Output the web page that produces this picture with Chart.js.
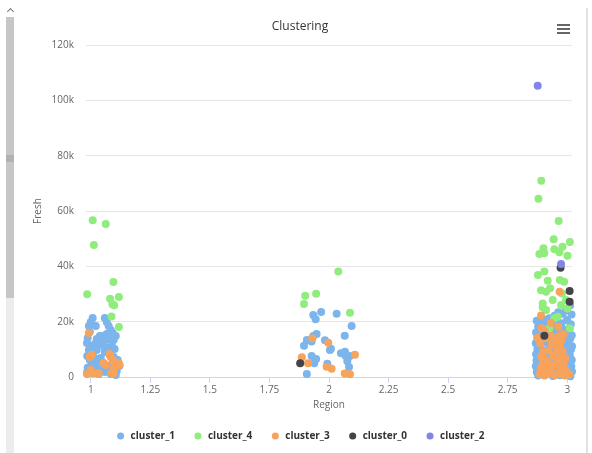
<!DOCTYPE html>
<html>
<head>
<meta charset="utf-8">
<script src="https://cdn.jsdelivr.net/npm/chart.js@4.4.1/dist/chart.umd.min.js"></script>
<style>
  html, body { margin: 0; padding: 0; background: #fff; }
  #wrap { position: relative; width: 592px; height: 453px; overflow: hidden; }
  #chart { position: absolute; left: 0; top: 0; }
  .track { position: absolute; left: 6px; top: 17px; width: 8px; height: 436px; background: #ececec; }
  .thumb { position: absolute; left: 6px; top: 17px; width: 8px; height: 281px; background: #c6c6c6; }
  .grip { position: absolute; left: 6px; top: 155px; width: 8px; height: 7px; background: #b2b2b2; }
  .arrow { position: absolute; left: 8px; top: 9px; width: 4px; height: 4px; border-left: 1px solid #777; border-top: 1px solid #777; transform: rotate(45deg); }
  .frame { position: absolute; left: 586px; top: 8px; width: 2px; height: 445px; background: #e2e2e2; }
  .menu span { position: absolute; left: 557px; width: 13px; height: 2px; background: #666; }
</style>
</head>
<body>
<div id="wrap">
  <canvas id="chart" width="592" height="453"></canvas>
  <div class="track"></div>
  <div class="thumb"></div>
  <div class="grip"></div>
  <div class="arrow"></div>
  <div class="frame"></div>
  <div class="menu"><span style="top:24px"></span><span style="top:28px"></span><span style="top:32px"></span></div>
</div>
<script>
// x = Region (jittered), y = Fresh
const regionTicks = [1, 1.25, 1.5, 1.75, 2, 2.25, 2.5, 2.75, 3];
const freshTicks = [0, 20000, 40000, 60000, 80000, 100000, 120000];
const seriesNames = ["cluster_1", "cluster_4", "cluster_3", "cluster_0", "cluster_2"];
const seriesColors = ["#7cb5ec", "#90ed7d", "#f7a35c", "#434348", "#8085e9"];

const cluster1 = [
  // region 1
  [1.008,21300],[1.000,19900],[0.992,18400],[0.996,16300],[0.987,14100],[0.984,12300],[1.000,11200],[1.017,11900],
  [1.025,13700],[1.038,14800],[0.992,9800],[1.008,9000],[0.985,7600],[0.996,6100],[1.017,6900],[1.029,5400],
  [1.004,4300],[0.987,3300],[1.021,3300],[1.038,2500],[0.985,1800],[1.008,1400],[1.033,1100],[1.021,18400],
  [1.025,9800],[1.042,11900],
  [1.059,21300],[1.067,19900],[1.075,18400],[1.084,17000],[1.092,15900],[1.067,15500],[1.046,14800],[1.059,13400],
  [1.079,13400],[1.096,13400],[1.105,14800],[1.088,11600],[1.071,10500],[1.100,10100],[1.059,9000],[1.079,8000],
  [1.096,7200],[1.113,6100],[1.050,5100],[1.071,4000],[1.092,3300],[1.109,2200],[1.120,4000],[1.059,1800],
  [1.084,1100],[1.105,700],[1.042,6900],[1.054,11200],
  // region 2
  [1.934,22400],[1.944,20900],[1.967,23500],[2.032,22900],[2.095,18400],[2.066,14900],[1.948,15500],[1.934,14800],
  [1.907,13400],[1.895,11300],[1.927,12800],[1.983,13300],[2.008,10200],[2.004,9800],[2.050,8600],[2.070,7600],
  [2.077,5700],[2.084,3600],[1.927,7600],[1.946,6500],[1.938,5000],[1.993,4800],[1.907,1100],[2.067,9100],[2.088,7600],
  // region 3
  [3.012,25800],[2.995,24100],[3.018,22600],[2.981,22900],[2.962,23400],[2.947,22100],[2.925,21200],
  [2.872,20300],[2.889,19600],[2.905,20800],[2.934,19900],[2.958,20100],[2.976,19400],[2.999,20600],[3.015,19100],
  [2.878,18200],[2.896,17500],[2.918,18600],[2.944,17800],[2.969,18000],[2.987,17100],[3.008,17600],
  [2.869,16100],[2.887,15700],[2.909,16400],[2.929,15900],[2.955,16500],[2.979,15800],[3.001,16200],[3.019,15100],
  [2.874,14200],[2.897,13600],[2.921,14400],[2.948,13900],[2.973,14300],[2.991,13500],[3.013,13900],
  [2.868,12200],[2.886,11800],[2.912,12500],[2.938,11900],[2.961,12300],[2.984,11600],[3.006,12000],[3.020,11100],
  [2.875,10100],[2.899,9700],[2.926,10400],[2.951,9900],[2.976,10200],[2.997,9500],[3.016,10000],
  [2.869,8200],[2.884,7600],[2.914,8000],[2.943,7700],[2.967,8300],[2.989,7400],[3.011,7900],
  [2.871,6000],[2.893,5500],[2.931,5900],[2.958,5300],[2.982,5800],[3.004,5200],[3.019,6100],
  [2.868,3900],[2.889,3400],[2.920,3800],[2.950,3200],[2.978,3600],[3.000,3100],[3.017,3900],
  [2.872,1800],[2.895,1200],[2.925,1700],[2.955,1100],[2.985,1600],[3.008,1000],[3.020,2000],
  [2.878,500],[2.940,400],[2.970,600],[3.013,300]
];

const cluster4 = [
  [0.985,29900],[1.008,56700],[1.063,55300],[1.013,47700],[1.095,34300],[1.081,28300],[1.118,28900],[1.091,26300],
  [1.098,25900],[1.087,21900],[1.118,18100],
  [2.039,38100],[1.900,29400],[1.946,30100],[1.895,26400],[2.088,23200],
  [2.891,70900],[2.879,64400],[2.964,56400],[2.943,49800],[2.900,46500],[2.883,44500],[2.904,44700],[2.980,47100],
  [3.011,48800],[2.967,45100],[3.001,43800],[2.946,46200],[2.877,36900],[2.904,38100],[2.918,34800],[2.969,35100],
  [2.987,34400],[2.890,31400],[2.911,30800],[2.928,32100],[2.939,27800],[2.897,26600],[2.978,30200],[2.995,27800],
  [2.974,26000],[2.911,24200],[2.946,21200],[3.001,24800],[3.011,17600],[2.925,17600],[2.960,21800],[2.897,25200]
];

const cluster3 = [
  [0.992,15900],[1.004,8000],[0.984,1100],[1.000,2500],[1.013,1400],[1.063,4300],[1.079,8300],[1.084,7200],
  [1.092,6100],[1.096,3300],[1.117,5100],[1.121,4300],[1.088,1400],[1.033,1400],[0.996,7200],[1.054,5100],[1.096,1400],
  [1.930,14000],[1.997,12400],[1.886,7100],[1.912,5000],[2.109,8000],[1.990,3700],[2.011,3000],[2.066,1300],[2.088,1000],
  [2.968,30800],[2.890,22200],[2.892,17600],[2.967,14800],[2.876,14200],[2.932,14800],
  [2.931,19500],[2.962,18200],[2.905,16600],[2.985,15500],[2.947,13000],[2.912,14000],[2.975,13200],
  [2.887,12100],[2.935,11800],[2.968,11000],
  [2.899,9200],[2.922,9600],[2.958,9900],[2.981,9100],
  [2.890,7400],[2.906,6500],[2.940,7600],[2.972,7300],[2.992,6700],
  [2.896,4800],[2.917,5300],[2.948,4600],[2.962,5900],[2.984,4500],
  [2.888,3100],[2.910,2600],[2.932,3200],[2.968,2900],[2.995,2300],
  [2.885,1000],[2.905,500],[2.928,1200],[2.950,700],[2.972,1100],[2.990,500],[3.008,900]
];

const cluster0 = [[1.879,5000],[2.972,39500],[3.010,31100],[3.010,27200],[2.904,14900]];
const cluster2 = [[2.876,105300],[2.974,40800]];

const allSeries = [cluster1, cluster4, cluster3, cluster0, cluster2];

Chart.defaults.font.family = "'Open Sans', 'Noto Sans', sans-serif";

const datasets = allSeries.map((pts, i) => ({
  label: seriesNames[i],
  data: pts,
  backgroundColor: seriesColors[i],
  borderColor: seriesColors[i],
  pointRadius: 4,
  pointHoverRadius: 4,
  pointBorderWidth: 0,
  clip: false,
  order: allSeries.length - i   // later series drawn on top
}));

new Chart(document.getElementById("chart").getContext("2d"), {
  type: "scatter",
  data: { datasets: datasets },
  options: {
    responsive: false,
    animation: false,
    layout: { padding: { left: 8, right: 0, top: 0, bottom: 2 } },
    plugins: {
      title: {
        display: true,
        text: "Clustering",
        color: "#333",
        font: { size: 12, weight: "normal" },
        padding: { top: 19.5, bottom: 11.1 }
      },
      legend: {
        position: "bottom",
        labels: {
          usePointStyle: true,
          pointStyle: "circle",
          boxWidth: 10,
          boxHeight: 5,
          padding: 18,
          color: "#333",
          font: { size: 10, weight: "bold" },
          sort: (a, b) => a.datasetIndex - b.datasetIndex
        }
      },
      tooltip: { enabled: false }
    },
    scales: {
      x: {
        type: "linear",
        min: 0.98,
        max: 3.02,
        afterBuildTicks: s => { s.ticks = regionTicks.map(v => ({ value: v })); },
        afterFit: s => { s.height = 36; },
        grid: { drawOnChartArea: false, color: "#ccd6eb", tickLength: 6 },
        border: { color: "#ccd6eb" },
        ticks: { color: "#666", font: { size: 10 }, padding: 1, maxRotation: 0, autoSkip: false, callback: v => String(v) },
        title: { display: true, text: "Region", color: "#666", font: { size: 10 }, padding: { top: 0, bottom: 2 } }
      },
      y: {
        type: "linear",
        min: 0,
        max: 120000,
        afterBuildTicks: s => { s.ticks = freshTicks.map(v => ({ value: v })); },
        afterFit: s => { s.width = 78; },
        grid: { color: "#e6e6e6", drawTicks: false },
        border: { display: false },
        ticks: { color: "#666", font: { size: 10 }, padding: 12, callback: v => v === 0 ? "0" : (v / 1000) + "k" },
        title: { display: true, text: "Fresh", color: "#666", font: { size: 10 }, padding: { top: 24, bottom: 0 } }
      },
      pad: {
        type: "linear",
        axis: "y",
        position: "right",
        afterFit: s => { s.width = 20; },
        grid: { display: false },
        border: { display: false },
        ticks: { display: false }
      }
    }
  }
});
</script>
</body>
</html>
